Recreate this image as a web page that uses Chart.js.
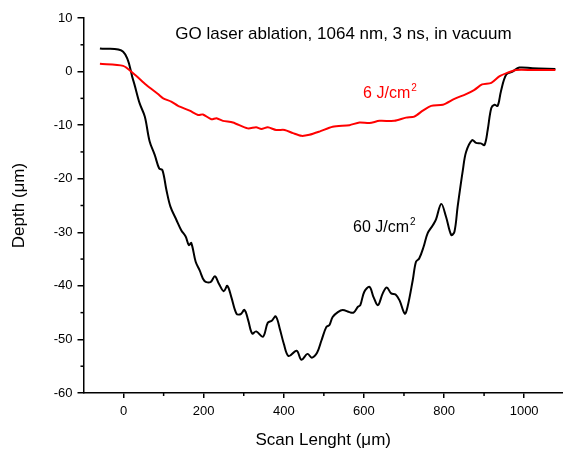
<!DOCTYPE html>
<html>
<head>
<meta charset="utf-8">
<script src="https://cdn.jsdelivr.net/npm/chart.js@4"></script>
<style>
  html, body { margin: 0; padding: 0; background: #fff; }
  .chartBox { width: 563px; height: 450px; }
</style>
</head>
<body>
<div class="chartBox"><canvas id="depthChart"></canvas></div>
<script>
// scan position (um) and depth (um)
const xHigh = [-59, -1, 24, 40, 53, 65, 78, 89, 97, 107, 117, 132, 144, 155, 163, 169, 180, 190, 202, 217,
  228, 238, 250, 259, 269, 282, 292, 302, 311, 321, 331, 348, 360, 370, 380, 390, 400, 412, 432, 444,
  459, 470, 483, 494, 506, 514, 522, 535, 547, 564, 574, 585, 591, 601, 614, 624, 635, 647, 657, 668,
  679, 689, 702, 709, 722, 730, 738, 749, 759, 772, 780, 793, 805, 818, 826, 834, 847, 855, 870, 880,
  892, 901, 909, 918, 926, 934, 942, 955, 971, 988, 1021, 1078];
const yHigh = [4.3, 3.7, -1.6, -5.9, -8.4, -13.0, -15.6, -18.1, -18.4, -22.1, -25.2, -27.7, -29.6, -30.8, -32.4, -32.0, -35.5, -37.1, -39.1, -39.3,
  -38.2, -39.6, -41.0, -40.0, -42.1, -45.2, -45.3, -44.5, -46.4, -48.9, -48.5, -49.5, -46.9, -46.5, -45.7, -48.0, -50.8, -53.1, -52.1, -53.8,
  -52.7, -53.4, -52.5, -50.2, -47.7, -47.3, -45.8, -44.9, -44.5, -44.9, -45.0, -43.9, -43.6, -41.1, -40.2, -42.1, -43.6, -41.4, -40.3, -41.4,
  -41.6, -42.7, -45.2, -43.9, -38.9, -35.5, -34.9, -32.7, -30.2, -28.7, -27.6, -24.7, -27.1, -30.5, -29.9, -25.2, -18.4, -15.0, -12.8, -13.3,
  -13.4, -13.7, -10.9, -6.8, -6.2, -6.4, -3.7, -0.6, 0.0, 0.75, 0.6, 0.5];

const xLow = [-59, -1, 24, 57, 86, 99, 119, 136, 165, 186, 198, 219, 232, 248, 273, 310, 331, 344, 360, 381,
  402, 423, 444, 464, 489, 522, 564, 589, 614, 639, 676, 705, 726, 747, 768, 797, 826, 855, 876, 895,
  918, 938, 959, 980, 1021, 1078];
const yLow = [1.44, 1.07, -0.3, -2.5, -4.2, -5.0, -5.6, -6.4, -7.3, -8.1, -8.0, -8.9, -8.7, -9.2, -9.5, -10.6, -10.4, -10.7, -10.4, -10.9,
  -10.9, -11.5, -12.0, -11.8, -11.2, -10.3, -10.0, -9.5, -9.6, -9.2, -9.2, -8.6, -8.4, -7.3, -6.4, -6.2, -5.1, -4.2, -3.4, -2.4,
  -2.1, -0.9, -0.2, 0.3, 0.3, 0.3];

// tick positions (all) and the ones that get a label
const xTicks = [0, 100, 200, 300, 400, 500, 600, 700, 800, 900, 1000];
const xLabels = [0, 200, 400, 600, 800, 1000];
const yTicks = [-60, -55, -50, -45, -40, -35, -30, -25, -20, -15, -10, -5, 0, 5, 10];
const yLabels = [-60, -50, -40, -30, -20, -10, 0, 10];

const seriesNames = ['6 J/cm', '60 J/cm'];
const chartTitle = 'GO laser ablation, 1064 nm, 3 ns, in vacuum';

const FONT = "'Liberation Sans', Arial, sans-serif";

const toPoints = (xs, ys) => xs.map((x, i) => ({ x: x, y: ys[i] }));

// minor ticks (short) + free text labels
const extras = {
  id: 'extras',
  afterDraw(chart) {
    const { ctx, scales: { x, y } } = chart;
    ctx.save();
    ctx.strokeStyle = '#000';
    ctx.lineWidth = 1.5;
    // minor ticks
    xTicks.filter(v => !xLabels.includes(v)).forEach(v => {
      const px = x.getPixelForValue(v);
      ctx.beginPath(); ctx.moveTo(px, y.bottom); ctx.lineTo(px, y.bottom + 3); ctx.stroke();
    });
    yTicks.filter(v => !yLabels.includes(v)).forEach(v => {
      const py = y.getPixelForValue(v);
      ctx.beginPath(); ctx.moveTo(x.left, py); ctx.lineTo(x.left - 3, py); ctx.stroke();
    });

    // title
    ctx.fillStyle = '#000';
    ctx.font = '17px ' + FONT;
    ctx.textAlign = 'center';
    ctx.textBaseline = 'middle';
    ctx.fillText(chartTitle, x.getPixelForValue(549), y.getPixelForValue(6.9));

    // curve labels with superscript 2
    const label = (txt, vx, vy, color) => {
      const px = x.getPixelForValue(vx), py = y.getPixelForValue(vy);
      ctx.fillStyle = color;
      ctx.textAlign = 'left';
      ctx.textBaseline = 'alphabetic';
      ctx.font = '16px ' + FONT;
      ctx.fillText(txt, px, py);
      const w = ctx.measureText(txt).width;
      ctx.font = '10px ' + FONT;
      ctx.fillText('2', px + w + 1, py - 7);
    };
    label(seriesNames[0], 598, -4.9, '#ff0000');
    label(seriesNames[1], 573, -29.9, '#000');
    ctx.restore();
  }
};

new Chart(document.getElementById('depthChart'), {
  type: 'line',
  data: {
    datasets: [
      {
        label: seriesNames[0],
        data: toPoints(xLow, yLow),
        borderColor: '#ff0000',
        borderWidth: 2,
        pointRadius: 0,
        tension: 0.25,
        fill: false
      },
      {
        label: seriesNames[1],
        data: toPoints(xHigh, yHigh),
        borderColor: '#000',
        borderWidth: 2,
        pointRadius: 0,
        tension: 0.35,
        fill: false
      }
    ]
  },
  options: {
    responsive: true,
    maintainAspectRatio: false,
    animation: false,
    layout: { padding: { top: 18, right: 0, left: 0, bottom: 0 } },
    plugins: {
      legend: { display: false },
      tooltip: { enabled: false }
    },
    scales: {
      x: {
        type: 'linear',
        min: -100,
        max: 1097,
        afterBuildTicks(scale) { scale.ticks = xLabels.map(v => ({ value: v })); },
        afterFit(scale) { scale.height = 57; scale.paddingRight = 0; },
        border: { display: true, color: '#000', width: 1.5 },
        grid: {
          drawOnChartArea: false,
          drawTicks: true,
          tickLength: 5,
          lineWidth: 1.5,
          color: '#000'
        },
        ticks: {
          autoSkip: false,
          maxRotation: 0,
          padding: 6,
          color: '#000',
          font: { family: FONT, size: 13 },
          callback: v => String(v)
        },
        title: {
          display: true,
          text: 'Scan Lenght (μm)',
          color: '#000',
          font: { family: FONT, size: 17, lineHeight: 1.1 },
          padding: { top: 0, bottom: 0 }
        }
      },
      y: {
        min: -60,
        max: 10,
        afterBuildTicks(scale) { scale.ticks = yLabels.map(v => ({ value: v })); },
        afterFit(scale) { scale.width = 83.5; },
        border: { display: true, color: '#000', width: 1.5 },
        grid: {
          drawOnChartArea: false,
          drawTicks: true,
          tickLength: 6,
          lineWidth: 1.5,
          color: '#000'
        },
        ticks: {
          autoSkip: false,
          padding: 5,
          color: '#000',
          font: { family: FONT, size: 13 },
          callback: v => String(v)
        },
        title: {
          display: true,
          text: 'Depth (μm)',
          color: '#000',
          font: { family: FONT, size: 17, lineHeight: 1.1 },
          padding: { top: 9.5, bottom: 0 }
        }
      }
    }
  },
  plugins: [extras]
});
</script>
</body>
</html>
